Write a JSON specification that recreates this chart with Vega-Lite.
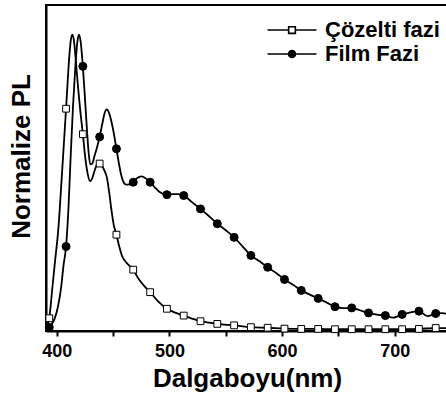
{
  "$schema": "https://vega.github.io/schema/vega-lite/v6.json",
  "width": 402,
  "height": 326,
  "autosize": "none",
  "padding": {"left": 46, "top": 5, "right": 0, "bottom": 67},
  "background": "white",
  "config": {
    "font": "Liberation Sans",
    "view": {"stroke": "black", "strokeWidth": 2}
  },
  "datasets": {
    "curves": [
      {"wl": 391, "pl": 0.015, "series": "Çözelti fazi"},
      {"wl": 393.4, "pl": 0.043, "series": "Çözelti fazi"},
      {"wl": 396, "pl": 0.14, "series": "Çözelti fazi"},
      {"wl": 398.5, "pl": 0.235, "series": "Çözelti fazi"},
      {"wl": 401.4, "pl": 0.342, "series": "Çözelti fazi"},
      {"wl": 404.5, "pl": 0.52, "series": "Çözelti fazi"},
      {"wl": 408.3, "pl": 0.75, "series": "Çözelti fazi"},
      {"wl": 410.5, "pl": 0.89, "series": "Çözelti fazi"},
      {"wl": 412.3, "pl": 0.975, "series": "Çözelti fazi"},
      {"wl": 413.8, "pl": 1.0, "series": "Çözelti fazi"},
      {"wl": 415.3, "pl": 0.98, "series": "Çözelti fazi"},
      {"wl": 417, "pl": 0.91, "series": "Çözelti fazi"},
      {"wl": 419, "pl": 0.82, "series": "Çözelti fazi"},
      {"wl": 421, "pl": 0.74, "series": "Çözelti fazi"},
      {"wl": 423.2, "pl": 0.664, "series": "Çözelti fazi"},
      {"wl": 425.5, "pl": 0.58, "series": "Çözelti fazi"},
      {"wl": 427.5, "pl": 0.53, "series": "Çözelti fazi"},
      {"wl": 429.6, "pl": 0.505, "series": "Çözelti fazi"},
      {"wl": 431.5, "pl": 0.515, "series": "Çözelti fazi"},
      {"wl": 433.5, "pl": 0.54, "series": "Çözelti fazi"},
      {"wl": 436, "pl": 0.562, "series": "Çözelti fazi"},
      {"wl": 438.1, "pl": 0.565, "series": "Çözelti fazi"},
      {"wl": 440.5, "pl": 0.555, "series": "Çözelti fazi"},
      {"wl": 442.5, "pl": 0.54, "series": "Çözelti fazi"},
      {"wl": 444.4, "pl": 0.52, "series": "Çözelti fazi"},
      {"wl": 446.5, "pl": 0.47, "series": "Çözelti fazi"},
      {"wl": 448.5, "pl": 0.41, "series": "Çözelti fazi"},
      {"wl": 450.5, "pl": 0.36, "series": "Çözelti fazi"},
      {"wl": 453.0, "pl": 0.325, "series": "Çözelti fazi"},
      {"wl": 455.5, "pl": 0.285, "series": "Çözelti fazi"},
      {"wl": 458, "pl": 0.253, "series": "Çözelti fazi"},
      {"wl": 460.5, "pl": 0.237, "series": "Çözelti fazi"},
      {"wl": 464, "pl": 0.222, "series": "Çözelti fazi"},
      {"wl": 467.9, "pl": 0.207, "series": "Çözelti fazi"},
      {"wl": 472, "pl": 0.18, "series": "Çözelti fazi"},
      {"wl": 477, "pl": 0.155, "series": "Çözelti fazi"},
      {"wl": 482.9, "pl": 0.131, "series": "Çözelti fazi"},
      {"wl": 490, "pl": 0.1, "series": "Çözelti fazi"},
      {"wl": 497.8, "pl": 0.075, "series": "Çözelti fazi"},
      {"wl": 505, "pl": 0.062, "series": "Çözelti fazi"},
      {"wl": 512.7, "pl": 0.052, "series": "Çözelti fazi"},
      {"wl": 520, "pl": 0.042, "series": "Çözelti fazi"},
      {"wl": 527.6, "pl": 0.033, "series": "Çözelti fazi"},
      {"wl": 535, "pl": 0.028, "series": "Çözelti fazi"},
      {"wl": 542.5, "pl": 0.024, "series": "Çözelti fazi"},
      {"wl": 557.4, "pl": 0.019, "series": "Çözelti fazi"},
      {"wl": 572.3, "pl": 0.013, "series": "Çözelti fazi"},
      {"wl": 587.2, "pl": 0.011, "series": "Çözelti fazi"},
      {"wl": 602.1, "pl": 0.008, "series": "Çözelti fazi"},
      {"wl": 617.0, "pl": 0.007, "series": "Çözelti fazi"},
      {"wl": 632.0, "pl": 0.007, "series": "Çözelti fazi"},
      {"wl": 646.9, "pl": 0.006, "series": "Çözelti fazi"},
      {"wl": 661.8, "pl": 0.006, "series": "Çözelti fazi"},
      {"wl": 676.7, "pl": 0.006, "series": "Çözelti fazi"},
      {"wl": 691.6, "pl": 0.006, "series": "Çözelti fazi"},
      {"wl": 706.5, "pl": 0.006, "series": "Çözelti fazi"},
      {"wl": 721.4, "pl": 0.007, "series": "Çözelti fazi"},
      {"wl": 736.3, "pl": 0.01, "series": "Çözelti fazi"},
      {"wl": 747, "pl": 0.01, "series": "Çözelti fazi"},
      {"wl": 391, "pl": 0.004, "series": "Film Fazi"},
      {"wl": 393.4, "pl": 0.012, "series": "Film Fazi"},
      {"wl": 395, "pl": 0.02, "series": "Film Fazi"},
      {"wl": 398, "pl": 0.04, "series": "Film Fazi"},
      {"wl": 401, "pl": 0.08, "series": "Film Fazi"},
      {"wl": 404, "pl": 0.15, "series": "Film Fazi"},
      {"wl": 406, "pl": 0.22, "series": "Film Fazi"},
      {"wl": 408.3, "pl": 0.285, "series": "Film Fazi"},
      {"wl": 410.5, "pl": 0.42, "series": "Film Fazi"},
      {"wl": 412.5, "pl": 0.6, "series": "Film Fazi"},
      {"wl": 414.5, "pl": 0.76, "series": "Film Fazi"},
      {"wl": 416.5, "pl": 0.89, "series": "Film Fazi"},
      {"wl": 418.3, "pl": 0.975, "series": "Film Fazi"},
      {"wl": 419.8, "pl": 1.0, "series": "Film Fazi"},
      {"wl": 421.3, "pl": 0.975, "series": "Film Fazi"},
      {"wl": 423.2, "pl": 0.893, "series": "Film Fazi"},
      {"wl": 425, "pl": 0.79, "series": "Film Fazi"},
      {"wl": 427, "pl": 0.67, "series": "Film Fazi"},
      {"wl": 428.5, "pl": 0.595, "series": "Film Fazi"},
      {"wl": 429.8, "pl": 0.562, "series": "Film Fazi"},
      {"wl": 431.5, "pl": 0.565, "series": "Film Fazi"},
      {"wl": 433.5, "pl": 0.59, "series": "Film Fazi"},
      {"wl": 435.8, "pl": 0.62, "series": "Film Fazi"},
      {"wl": 438.1, "pl": 0.655, "series": "Film Fazi"},
      {"wl": 440.5, "pl": 0.7, "series": "Film Fazi"},
      {"wl": 442.5, "pl": 0.735, "series": "Film Fazi"},
      {"wl": 444.4, "pl": 0.748, "series": "Film Fazi"},
      {"wl": 446.5, "pl": 0.735, "series": "Film Fazi"},
      {"wl": 449.5, "pl": 0.69, "series": "Film Fazi"},
      {"wl": 453.0, "pl": 0.615, "series": "Film Fazi"},
      {"wl": 455, "pl": 0.57, "series": "Film Fazi"},
      {"wl": 457, "pl": 0.53, "series": "Film Fazi"},
      {"wl": 459, "pl": 0.505, "series": "Film Fazi"},
      {"wl": 461.5, "pl": 0.494, "series": "Film Fazi"},
      {"wl": 464.5, "pl": 0.495, "series": "Film Fazi"},
      {"wl": 467.9, "pl": 0.502, "series": "Film Fazi"},
      {"wl": 471, "pl": 0.515, "series": "Film Fazi"},
      {"wl": 475.4, "pl": 0.522, "series": "Film Fazi"},
      {"wl": 479, "pl": 0.515, "series": "Film Fazi"},
      {"wl": 482.9, "pl": 0.502, "series": "Film Fazi"},
      {"wl": 487, "pl": 0.485, "series": "Film Fazi"},
      {"wl": 491, "pl": 0.47, "series": "Film Fazi"},
      {"wl": 497.8, "pl": 0.46, "series": "Film Fazi"},
      {"wl": 503, "pl": 0.462, "series": "Film Fazi"},
      {"wl": 508, "pl": 0.462, "series": "Film Fazi"},
      {"wl": 512.7, "pl": 0.457, "series": "Film Fazi"},
      {"wl": 520, "pl": 0.435, "series": "Film Fazi"},
      {"wl": 527.6, "pl": 0.412, "series": "Film Fazi"},
      {"wl": 535, "pl": 0.388, "series": "Film Fazi"},
      {"wl": 542.5, "pl": 0.362, "series": "Film Fazi"},
      {"wl": 550, "pl": 0.34, "series": "Film Fazi"},
      {"wl": 557.4, "pl": 0.316, "series": "Film Fazi"},
      {"wl": 565, "pl": 0.285, "series": "Film Fazi"},
      {"wl": 572.3, "pl": 0.255, "series": "Film Fazi"},
      {"wl": 580, "pl": 0.235, "series": "Film Fazi"},
      {"wl": 587.2, "pl": 0.215, "series": "Film Fazi"},
      {"wl": 595, "pl": 0.195, "series": "Film Fazi"},
      {"wl": 602.1, "pl": 0.174, "series": "Film Fazi"},
      {"wl": 610, "pl": 0.155, "series": "Film Fazi"},
      {"wl": 617.0, "pl": 0.137, "series": "Film Fazi"},
      {"wl": 625, "pl": 0.122, "series": "Film Fazi"},
      {"wl": 632.0, "pl": 0.11, "series": "Film Fazi"},
      {"wl": 640, "pl": 0.095, "series": "Film Fazi"},
      {"wl": 646.9, "pl": 0.082, "series": "Film Fazi"},
      {"wl": 654, "pl": 0.077, "series": "Film Fazi"},
      {"wl": 661.8, "pl": 0.078, "series": "Film Fazi"},
      {"wl": 669, "pl": 0.07, "series": "Film Fazi"},
      {"wl": 676.7, "pl": 0.061, "series": "Film Fazi"},
      {"wl": 684, "pl": 0.055, "series": "Film Fazi"},
      {"wl": 691.6, "pl": 0.052, "series": "Film Fazi"},
      {"wl": 698.5, "pl": 0.045, "series": "Film Fazi"},
      {"wl": 706.5, "pl": 0.056, "series": "Film Fazi"},
      {"wl": 714, "pl": 0.063, "series": "Film Fazi"},
      {"wl": 721.4, "pl": 0.067, "series": "Film Fazi"},
      {"wl": 729, "pl": 0.05, "series": "Film Fazi"},
      {"wl": 736.3, "pl": 0.059, "series": "Film Fazi"},
      {"wl": 742, "pl": 0.06, "series": "Film Fazi"},
      {"wl": 747, "pl": 0.058, "series": "Film Fazi"}
    ],
    "markers": [
      {"wl": 393.4, "pl": 0.043, "series": "Çözelti fazi"},
      {"wl": 408.3, "pl": 0.75, "series": "Çözelti fazi"},
      {"wl": 423.2, "pl": 0.664, "series": "Çözelti fazi"},
      {"wl": 438.1, "pl": 0.565, "series": "Çözelti fazi"},
      {"wl": 453.0, "pl": 0.325, "series": "Çözelti fazi"},
      {"wl": 467.9, "pl": 0.207, "series": "Çözelti fazi"},
      {"wl": 482.9, "pl": 0.131, "series": "Çözelti fazi"},
      {"wl": 497.8, "pl": 0.075, "series": "Çözelti fazi"},
      {"wl": 512.7, "pl": 0.052, "series": "Çözelti fazi"},
      {"wl": 527.6, "pl": 0.033, "series": "Çözelti fazi"},
      {"wl": 542.5, "pl": 0.024, "series": "Çözelti fazi"},
      {"wl": 557.4, "pl": 0.019, "series": "Çözelti fazi"},
      {"wl": 572.3, "pl": 0.013, "series": "Çözelti fazi"},
      {"wl": 587.2, "pl": 0.011, "series": "Çözelti fazi"},
      {"wl": 602.1, "pl": 0.008, "series": "Çözelti fazi"},
      {"wl": 617.0, "pl": 0.007, "series": "Çözelti fazi"},
      {"wl": 632.0, "pl": 0.007, "series": "Çözelti fazi"},
      {"wl": 646.9, "pl": 0.006, "series": "Çözelti fazi"},
      {"wl": 661.8, "pl": 0.006, "series": "Çözelti fazi"},
      {"wl": 676.7, "pl": 0.006, "series": "Çözelti fazi"},
      {"wl": 691.6, "pl": 0.006, "series": "Çözelti fazi"},
      {"wl": 706.5, "pl": 0.006, "series": "Çözelti fazi"},
      {"wl": 721.4, "pl": 0.007, "series": "Çözelti fazi"},
      {"wl": 736.3, "pl": 0.01, "series": "Çözelti fazi"},
      {"wl": 393.4, "pl": 0.012, "series": "Film Fazi"},
      {"wl": 408.3, "pl": 0.285, "series": "Film Fazi"},
      {"wl": 423.2, "pl": 0.893, "series": "Film Fazi"},
      {"wl": 438.1, "pl": 0.655, "series": "Film Fazi"},
      {"wl": 453.0, "pl": 0.615, "series": "Film Fazi"},
      {"wl": 467.9, "pl": 0.502, "series": "Film Fazi"},
      {"wl": 482.9, "pl": 0.502, "series": "Film Fazi"},
      {"wl": 497.8, "pl": 0.46, "series": "Film Fazi"},
      {"wl": 512.7, "pl": 0.457, "series": "Film Fazi"},
      {"wl": 527.6, "pl": 0.412, "series": "Film Fazi"},
      {"wl": 542.5, "pl": 0.362, "series": "Film Fazi"},
      {"wl": 557.4, "pl": 0.316, "series": "Film Fazi"},
      {"wl": 572.3, "pl": 0.255, "series": "Film Fazi"},
      {"wl": 587.2, "pl": 0.215, "series": "Film Fazi"},
      {"wl": 602.1, "pl": 0.174, "series": "Film Fazi"},
      {"wl": 617.0, "pl": 0.137, "series": "Film Fazi"},
      {"wl": 632.0, "pl": 0.11, "series": "Film Fazi"},
      {"wl": 646.9, "pl": 0.082, "series": "Film Fazi"},
      {"wl": 661.8, "pl": 0.078, "series": "Film Fazi"},
      {"wl": 676.7, "pl": 0.061, "series": "Film Fazi"},
      {"wl": 691.6, "pl": 0.052, "series": "Film Fazi"},
      {"wl": 706.5, "pl": 0.056, "series": "Film Fazi"},
      {"wl": 721.4, "pl": 0.067, "series": "Film Fazi"},
      {"wl": 736.3, "pl": 0.059, "series": "Film Fazi"}
    ]
  },
  "layer": [
    {
      "data": {"name": "curves"},
      "mark": {"type": "line", "color": "black", "strokeWidth": 1.8, "interpolate": "monotone"},
      "encoding": {
        "x": {
          "field": "wl", "type": "quantitative",
          "scale": {"domain": [390.5, 747.2], "nice": false, "zero": false},
          "axis": {
            "title": "Dalgaboyu(nm)",
            "values": [400, 450, 500, 550, 600, 650, 700],
            "labelExpr": "datum.value % 100 === 0 ? datum.label : ''",
            "grid": false,
            "tickSize": 5, "tickWidth": 2, "tickColor": "black",
            "domainColor": "black", "domainWidth": 2,
            "labelFontSize": 18, "labelFontWeight": "bold", "labelColor": "black",
            "labelPadding": 6, "labelFlush": false, "labelOverlap": false,
            "titleFontSize": 26, "titleFontWeight": "bold", "titleColor": "black",
            "titlePadding": 5
          }
        },
        "y": {
          "field": "pl", "type": "quantitative",
          "scale": {"domain": [0, 1.1], "nice": false},
          "axis": {
            "title": "Normalize PL",
            "labels": false, "ticks": false, "grid": false,
            "domainColor": "black", "domainWidth": 2,
            "titleFontSize": 26, "titleFontWeight": "bold", "titleColor": "black",
            "titlePadding": 12, "titleY": 151
          }
        },
        "detail": {"field": "series", "type": "nominal"}
      }
    },
    {
      "data": {"name": "markers"},
      "transform": [{"filter": "datum.series === 'Çözelti fazi'"}],
      "mark": {"type": "point", "shape": "square", "filled": true, "fill": "white", "stroke": "black", "strokeWidth": 1, "opacity": 1, "size": 46},
      "encoding": {
        "x": {"field": "wl", "type": "quantitative"},
        "y": {"field": "pl", "type": "quantitative"}
      }
    },
    {
      "data": {"name": "markers"},
      "transform": [{"filter": "datum.series === 'Film Fazi'"}],
      "mark": {"type": "point", "shape": "circle", "filled": true, "fill": "black", "stroke": "black", "strokeWidth": 1, "opacity": 1, "size": 64},
      "encoding": {
        "x": {"field": "wl", "type": "quantitative"},
        "y": {"field": "pl", "type": "quantitative"}
      }
    },
    {
      "data": {"name": "markers"},
      "transform": [{"filter": "false"}],
      "mark": {"type": "point", "filled": true, "opacity": 1, "size": 49},
      "encoding": {
        "x": {"field": "wl", "type": "quantitative"},
        "y": {"field": "pl", "type": "quantitative"},
        "shape": {
          "field": "series", "type": "nominal",
          "scale": {"domain": ["Çözelti fazi", "Film Fazi"], "range": ["M-0.95,-0.95H0.95V0.95H-0.95Z M-7,0H-0.95M0.95,0H7", "M1,0A1,1 0 1,1 -1,0A1,1 0 1,1 1,0Z M-7,0H-1M1,0H7"]},
          "legend": {
            "title": null, "orient": "none", "legendX": 235, "legendY": 14,
            "labelFontSize": 22, "labelFontWeight": "bold", "labelColor": "black",
            "symbolStrokeWidth": 1.6, "symbolSize": 49,
            "labelOffset": 22, "rowPadding": 2, "padding": 0
          }
        },
        "fill": {
          "field": "series", "type": "nominal",
          "scale": {"domain": ["Çözelti fazi", "Film Fazi"], "range": ["white", "black"]},
          "legend": {
            "title": null, "orient": "none", "legendX": 235, "legendY": 14,
            "labelFontSize": 22, "labelFontWeight": "bold", "labelColor": "black",
            "symbolStrokeWidth": 1.6, "symbolSize": 49,
            "labelOffset": 22, "rowPadding": 2, "padding": 0
          }
        },
        "stroke": {
          "field": "series", "type": "nominal",
          "scale": {"domain": ["Çözelti fazi", "Film Fazi"], "range": ["black", "black"]},
          "legend": {
            "title": null, "orient": "none", "legendX": 235, "legendY": 14,
            "labelFontSize": 22, "labelFontWeight": "bold", "labelColor": "black",
            "symbolStrokeWidth": 1.6, "symbolSize": 49,
            "labelOffset": 22, "rowPadding": 2, "padding": 0
          }
        }
      }
    }
  ]
}
